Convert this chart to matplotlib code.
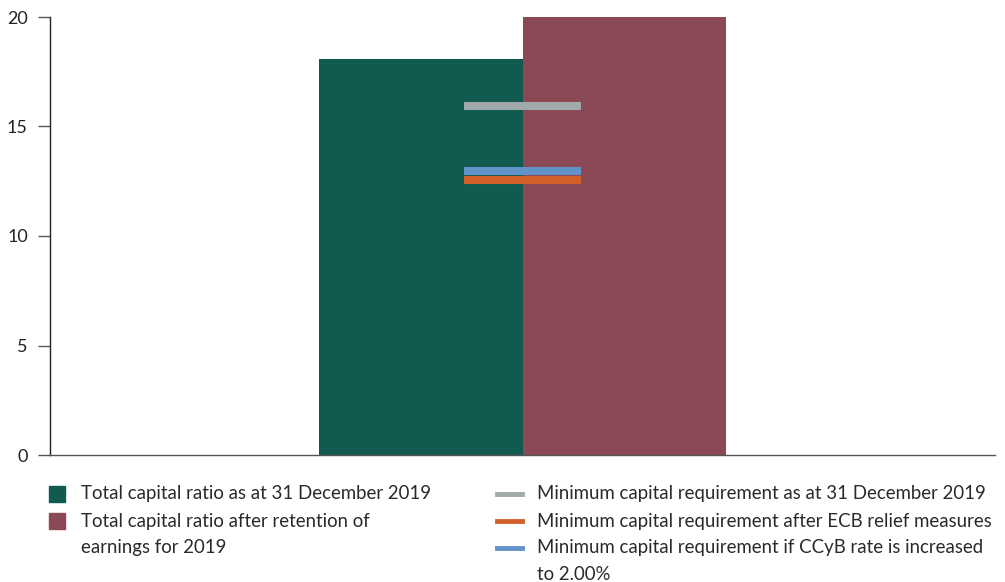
import matplotlib
matplotlib.use("Agg")
import matplotlib.pyplot as plt
from matplotlib.patches import Rectangle
from matplotlib.lines import Line2D

plt.rcParams['font.family'] = ['Lato', 'DejaVu Sans']

# Data
bar_labels = ["Total capital ratio as at 31 December 2019",
              "Total capital ratio after retention of\nearnings for 2019"]
bar_values = [18.1, 20.0]
bar_colors = ["#115a50", "#8b4955"]

req_labels = ["Minimum capital requirement as at 31 December 2019",
              "Minimum capital requirement after ECB relief measures",
              "Minimum capital requirement if CCyB rate is increased\nto 2.00%"]
req_values = [15.95, 12.55, 12.97]
req_colors = ["#a2a9ab", "#d26028", "#6193c8"]

yticks = [0, 5, 10, 15, 20]

W, H = 1005, 582
fig = plt.figure(figsize=(W / 100, H / 100), dpi=100)
ax = fig.add_axes([50 / W, (H - 455) / H, 945 / W, 438 / H])

xpos = [0, 1]
ax.bar(xpos, bar_values, width=1.0, color=bar_colors, linewidth=0, zorder=2)

# Requirement markers straddling the two bars
half = 0.287
for v, c in zip(req_values, req_colors):
    ax.hlines(v, 0.5 - half, 0.5 + half, colors=c, linewidth=5.8, zorder=3)

ax.set_xlim(-1.825, 2.825)
ax.set_ylim(0, 20)
ax.set_yticks(yticks)
ax.set_xticks([])
for s in ["top", "right"]:
    ax.spines[s].set_visible(False)
ax.spines["left"].set_color("#222222")
ax.spines["bottom"].set_color("#555555")
ax.spines["left"].set_linewidth(1.0)
ax.spines["bottom"].set_linewidth(1.0)
ax.tick_params(axis="y", length=9, width=1, color="#555555", pad=7,
               labelsize=13, labelcolor="#222222")

# Legend rows (pixel rows from the top of the figure)
fs = 13.4
text_color = "#2a2a2a"
row_y = [494, 521, 548, 575]


def legend_text(x, row, label):
    # one text per line so wrapped labels keep the row pitch
    for k, line in enumerate(label.split("\n")):
        fig.text(x / W, (H - row_y[row + k]) / H, line, fontsize=fs,
                 color=text_color, va="center")
    return row + len(label.split("\n"))


# Left column: bar swatches
row = 0
for lab, c in zip(bar_labels, bar_colors):
    y = row_y[row]
    fig.patches.append(Rectangle((49 / W, (H - y - 8) / H), 16 / W, 16 / H,
                                 color=c, transform=fig.transFigure))
    row = legend_text(81, row, lab)

# Right column: line swatches
row = 0
for lab, c in zip(req_labels, req_colors):
    y = row_y[row]
    fig.lines.append(Line2D([497 / W, 522 / W], [(H - y) / H] * 2, color=c,
                            linewidth=3.5, transform=fig.transFigure))
    row = legend_text(537, row, lab)

fig.savefig("out.png", dpi=100)
